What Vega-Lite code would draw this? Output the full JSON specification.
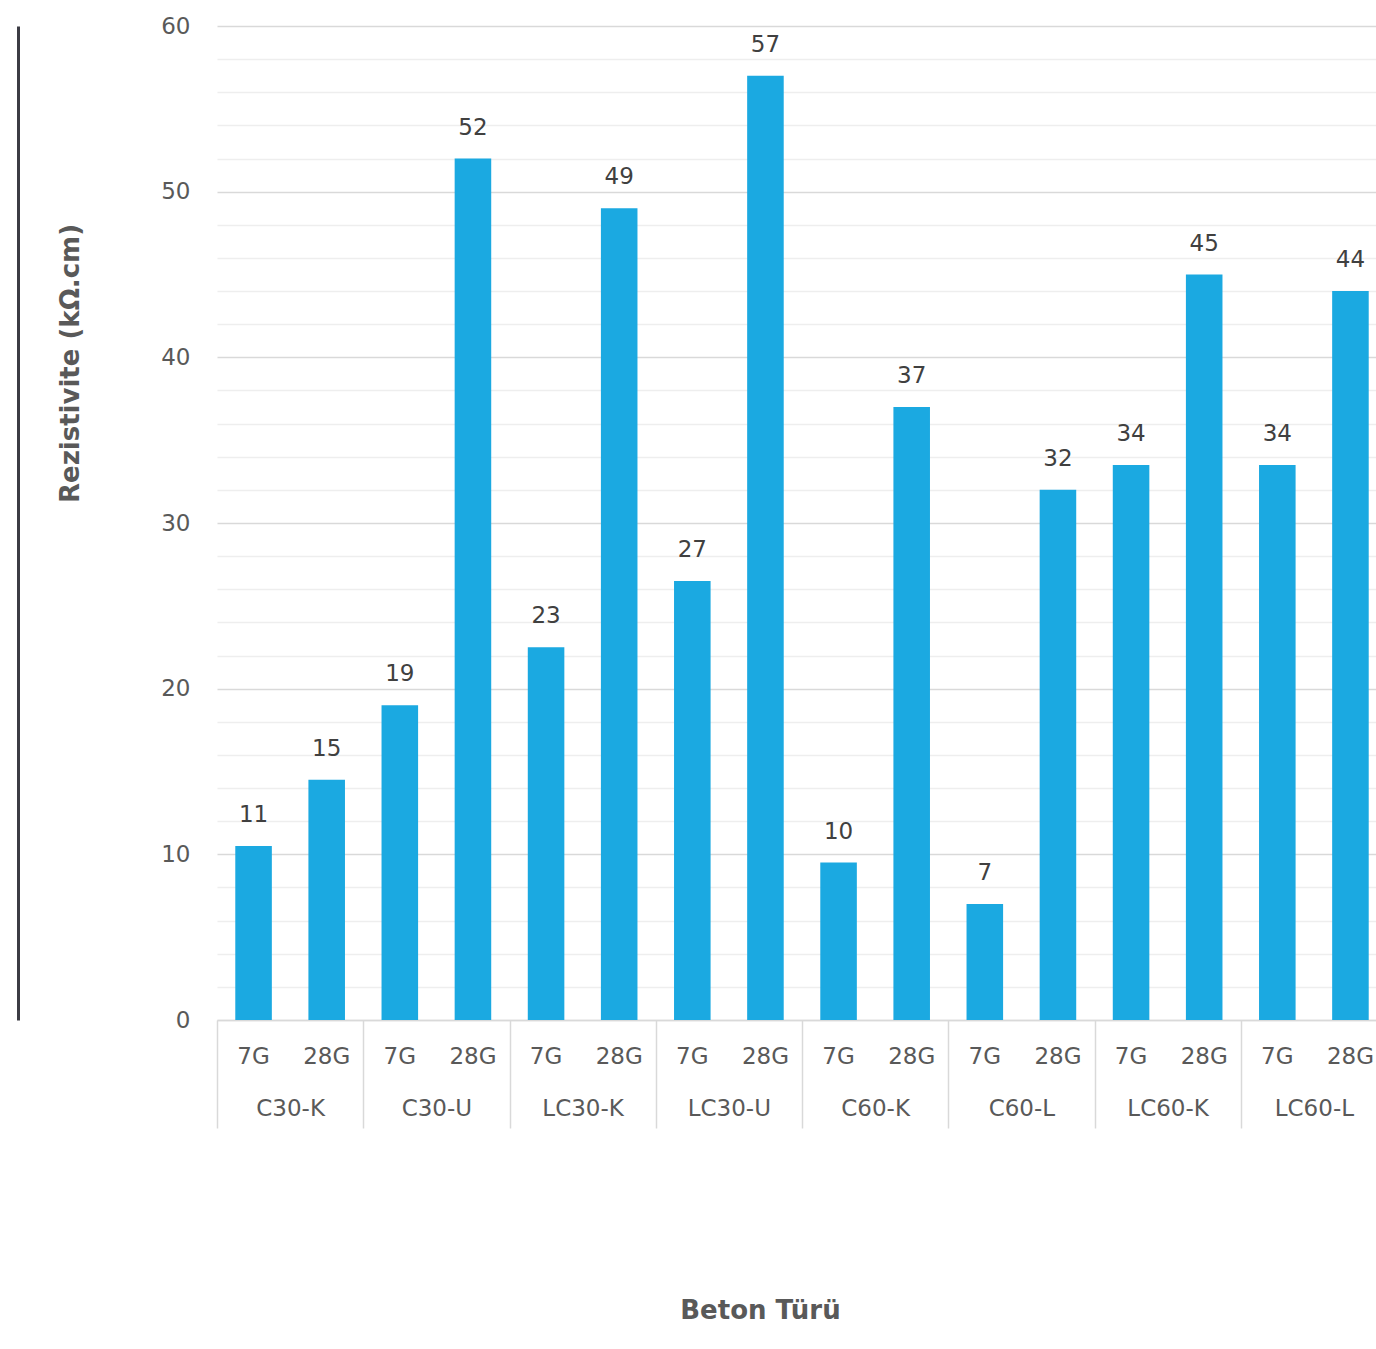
{
  "$schema": "https://vega.github.io/schema/vega-lite/v6.json",
  "autosize": {"type": "none"},
  "width": 1170,
  "height": 994,
  "padding": {"left": 217, "top": 26, "right": -11, "bottom": 329},
  "background": "white",
  "config": {
    "view": {"stroke": null},
    "font": "DejaVu Sans",
    "axis": {"labelFont": "DejaVu Sans", "titleFont": "DejaVu Sans"}
  },
  "data": {
    "values": [
      {"key": "C30-K 7G", "group": "C30-K", "age": "7G", "value": 10.5},
      {"key": "C30-K 28G", "group": "C30-K", "age": "28G", "value": 14.5},
      {"key": "C30-U 7G", "group": "C30-U", "age": "7G", "value": 19},
      {"key": "C30-U 28G", "group": "C30-U", "age": "28G", "value": 52},
      {"key": "LC30-K 7G", "group": "LC30-K", "age": "7G", "value": 22.5},
      {"key": "LC30-K 28G", "group": "LC30-K", "age": "28G", "value": 49},
      {"key": "LC30-U 7G", "group": "LC30-U", "age": "7G", "value": 26.5},
      {"key": "LC30-U 28G", "group": "LC30-U", "age": "28G", "value": 57},
      {"key": "C60-K 7G", "group": "C60-K", "age": "7G", "value": 9.5},
      {"key": "C60-K 28G", "group": "C60-K", "age": "28G", "value": 37},
      {"key": "C60-L 7G", "group": "C60-L", "age": "7G", "value": 7},
      {"key": "C60-L 28G", "group": "C60-L", "age": "28G", "value": 32},
      {"key": "LC60-K 7G", "group": "LC60-K", "age": "7G", "value": 33.5},
      {"key": "LC60-K 28G", "group": "LC60-K", "age": "28G", "value": 45},
      {"key": "LC60-L 7G", "group": "LC60-L", "age": "7G", "value": 33.5},
      {"key": "LC60-L 28G", "group": "LC60-L", "age": "28G", "value": 44}
    ]
  },
  "layer": [
    {
      "encoding": {
        "x": {
          "field": "key", "type": "nominal", "sort": null,
          "scale": {"paddingInner": 0.5, "paddingOuter": 0.25},
          "axis": {
            "title": "Beton Türü",
            "titleFontSize": 26, "titleFontWeight": "bold", "titleColor": "#595959",
            "titleX": 543, "titleY": 290, "titleBaseline": "middle", "titleAlign": "center",
            "labelExpr": "split(datum.label, ' ')[1]",
            "labelAngle": 0, "labelFontSize": 23, "labelColor": "#595959",
            "labelBaseline": "middle", "labelPadding": 36,
            "ticks": false, "domain": true, "domainColor": "#d9d9d9", "domainWidth": 1.5,
            "grid": false
          }
        },
        "y": {
          "field": "value", "type": "quantitative",
          "scale": {"domain": [0, 60], "nice": false},
          "axis": {
            "title": "Rezistivite (kΩ.cm)",
            "titleFontSize": 26, "titleFontWeight": "bold", "titleColor": "#595959",
            "titleX": -147, "titleY": 337, "titleBaseline": "middle", "titleAlign": "center",
            "values": [0, 2, 4, 6, 8, 10, 12, 14, 16, 18, 20, 22, 24, 26, 28, 30, 32, 34, 36, 38, 40, 42, 44, 46, 48, 50, 52, 54, 56, 58, 60],
            "labelExpr": "datum.value % 10 === 0 ? datum.label : ''",
            "labelFontSize": 23, "labelColor": "#595959", "labelPadding": 27,
            "ticks": false, "domain": false,
            "grid": true,
            "gridColor": {"condition": {"test": "datum.value % 10 === 0", "value": "#d9d9d9"}, "value": "#eeeeee"},
            "gridWidth": 1.5
          }
        }
      },
      "layer": [
        {"mark": {"type": "bar", "color": "#1ba9e1"}},
        {
          "mark": {"type": "text", "baseline": "middle", "dy": -31, "fontSize": 23, "color": "#404040", "font": "DejaVu Sans"},
          "encoding": {"text": {"field": "value", "type": "quantitative", "format": ".0f"}}
        }
      ]
    },
    {
      "mark": {"type": "bar", "opacity": 0},
      "encoding": {
        "x": {
          "field": "group", "type": "nominal", "sort": null,
          "scale": {"paddingInner": 0, "paddingOuter": 0},
          "axis": {
            "orient": "bottom", "title": null,
            "labelAngle": 0, "labelFontSize": 23, "labelColor": "#595959",
            "labelBaseline": "middle", "labelPadding": -20,
            "ticks": true, "tickBand": "extent", "tickSize": 108, "tickColor": "#d9d9d9", "tickWidth": 1.5,
            "domain": false, "grid": false
          }
        },
        "y": {
          "field": "value", "type": "quantitative",
          "scale": {"domain": [0, 60], "nice": false},
          "axis": {
            "orient": "left", "offset": 199, "title": null,
            "labels": false, "ticks": false, "grid": false,
            "domain": true, "domainColor": "#3c3c44", "domainWidth": 3
          }
        }
      }
    }
  ],
  "resolve": {"scale": {"x": "independent", "y": "independent"}, "axis": {"x": "independent", "y": "independent"}}
}
